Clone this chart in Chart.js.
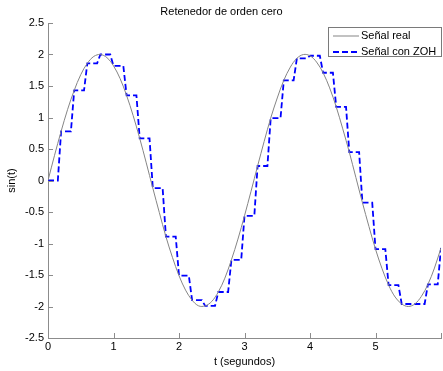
<!DOCTYPE html>
<html>
<head>
<meta charset="utf-8">
<script src="https://cdn.jsdelivr.net/npm/chart.js@4.4.0/dist/chart.umd.min.js"></script>
<style>
  html, body { margin: 0; padding: 0; background: #fff; }
  canvas { display: block; }
</style>
</head>
<body>
<canvas id="chart" width="443" height="371"></canvas>
<script>
// time axis of the continuous signal (s)
const tReal = [0, 0.1, 0.2, 0.3, 0.4, 0.5, 0.6, 0.7, 0.8, 0.9,
  1, 1.1, 1.2, 1.3, 1.4, 1.5, 1.6, 1.7, 1.8, 1.9,
  2, 2.1, 2.2, 2.3, 2.4, 2.5, 2.6, 2.7, 2.8, 2.9,
  3, 3.1, 3.2, 3.3, 3.4, 3.5, 3.6, 3.7, 3.8, 3.9,
  4, 4.1, 4.2, 4.3, 4.4, 4.5, 4.6, 4.7, 4.8, 4.9,
  5, 5.1, 5.2, 5.3, 5.4, 5.5, 5.6, 5.7, 5.8, 5.9, 6]
const yReal = [0, 0.40, 0.78, 1.13, 1.43, 1.68, 1.86, 1.97, 2.00, 1.95,
  1.82, 1.62, 1.35, 1.03, 0.67, 0.28, -0.12, -0.51, -0.89, -1.22,
  -1.51, -1.74, -1.90, -1.99, -1.99, -1.92, -1.77, -1.55, -1.26, -0.93,
  -0.56, -0.17, 0.23, 0.62, 0.99, 1.31, 1.59, 1.80, 1.94, 2.00,
  1.98, 1.88, 1.71, 1.47, 1.17, 0.82, 0.45, 0.05, -0.35, -0.73,
  -1.09, -1.40, -1.66, -1.85, -1.96, -2.00, -1.96, -1.84, -1.65, -1.39, -1.07]

// sample instants and held values of the ZOH
const tZoh = [0, 0.2, 0.4, 0.6, 0.8, 1, 1.2, 1.4, 1.6, 1.8,
  2, 2.2, 2.4, 2.6, 2.8, 3, 3.2, 3.4, 3.6, 3.8,
  4, 4.2, 4.4, 4.6, 4.8, 5, 5.2, 5.4, 5.6, 5.8, 6]
const yZoh = [0, 0.78, 1.43, 1.86, 2.00, 1.82, 1.35, 0.67, -0.12, -0.89,
  -1.51, -1.90, -1.99, -1.77, -1.26, -0.56, 0.23, 0.99, 1.59, 1.94,
  1.98, 1.71, 1.17, 0.45, -0.35, -1.09, -1.66, -1.96, -1.96, -1.65, -1.07]

const xTicks = [0, 1, 2, 3, 4, 5]
const yTicks = [-2.5, -2, -1.5, -1, -0.5, 0, 0.5, 1, 1.5, 2, 2.5]

// the held value ends one fine time step before the next sample
const FINE_STEP = 0.05

const FONT = "'Liberation Sans', Arial, sans-serif"
const AXIS_GRAY = '#8c8c8c'

function zohPoints(){
    const pts = []
    tZoh.forEach((t, i) => {
        pts.push({x: t, y: yZoh[i]})
        if (i < tZoh.length - 1){
            pts.push({x: tZoh[i + 1] - FINE_STEP, y: yZoh[i]})
        }
    })
    return pts
}

// MATLAB style: tick marks pointing into the plot area
const innerTicks = {
    id: 'innerTicks',
    afterDraw(chart){
        const {ctx, chartArea, scales} = chart
        ctx.save()
        ctx.strokeStyle = AXIS_GRAY
        ctx.lineWidth = 1
        ctx.beginPath()
        scales.y.ticks.forEach(t => {
            const py = Math.round(scales.y.getPixelForValue(t.value)) + 0.5
            ctx.moveTo(chartArea.left, py)
            ctx.lineTo(chartArea.left + 5, py)
        })
        scales.x.ticks.forEach(t => {
            const px = Math.round(scales.x.getPixelForValue(t.value)) + 0.5
            ctx.moveTo(px, chartArea.bottom)
            ctx.lineTo(px, chartArea.bottom - 5)
        })
        ctx.stroke()
        ctx.restore()
    }
}

// boxed legend in the upper right corner
const boxLegend = {
    id: 'boxLegend',
    afterDraw(chart){
        const ctx = chart.ctx
        const x0 = 328.5, y0 = 27.5, w = 113, h = 29
        ctx.save()
        ctx.fillStyle = '#fff'
        ctx.fillRect(x0, y0, w, h)
        ctx.strokeStyle = '#7a7a7a'
        ctx.lineWidth = 1
        ctx.strokeRect(x0, y0, w, h)
        ctx.font = '11px ' + FONT
        ctx.textBaseline = 'middle'
        ctx.fillStyle = '#000'
        chart.data.datasets.forEach((ds, i) => {
            const y = 36 + i * 16
            ctx.beginPath()
            ctx.strokeStyle = ds.borderColor
            ctx.lineWidth = ds.borderWidth
            ctx.setLineDash(ds.borderDash || [])
            ctx.moveTo(333, y)
            ctx.lineTo(359, y)
            ctx.stroke()
            ctx.setLineDash([])
            ctx.fillText(ds.label, 361, y)
        })
        ctx.restore()
    }
}

new Chart(document.getElementById('chart'), {
    type: 'line',
    data: {
        datasets: [
            {
                label: 'Señal real',
                data: tReal.map((t, i) => ({x: t, y: yReal[i]})),
                borderColor: '#858585',
                borderWidth: 1,
                pointRadius: 0,
                tension: 0.35,
                fill: false
            },
            {
                label: 'Señal con ZOH',
                data: zohPoints(),
                borderColor: '#0000ff',
                borderWidth: 1.8,
                borderDash: [6, 3],
                pointRadius: 0,
                tension: 0,
                fill: false
            }
        ]
    },
    options: {
        responsive: false,
        animation: false,
        devicePixelRatio: 1,
        layout: { padding: 0 },
        plugins: {
            legend: { display: false },
            tooltip: { enabled: false },
            title: {
                display: true,
                text: 'Retenedor de orden cero',
                color: '#000',
                font: { family: FONT, size: 11, weight: 'normal' },
                padding: { top: 5, bottom: 4.8 }
            }
        },
        scales: {
            x: {
                type: 'linear',
                min: 0,
                max: 6,
                afterBuildTicks: s => { s.ticks = xTicks.concat([6]).map(v => ({value: v})) },
                afterFit: s => { s.height = 33 },
                grid: { display: false, drawTicks: false },
                border: { display: true, color: AXIS_GRAY, width: 1 },
                ticks: {
                    padding: 2,
                    maxRotation: 0,
                    color: '#000',
                    font: { family: FONT, size: 11 },
                    callback: v => xTicks.includes(v) ? String(v) : ''
                },
                title: {
                    display: true,
                    text: 't (segundos)',
                    color: '#000',
                    font: { family: FONT, size: 11 },
                    padding: { top: 0, bottom: 2.4 }
                }
            },
            y: {
                min: -2.5,
                max: 2.5,
                afterBuildTicks: s => { s.ticks = yTicks.map(v => ({value: v})) },
                afterFit: s => { s.width = 48 },
                grid: { display: false, drawTicks: false },
                border: { display: true, color: AXIS_GRAY, width: 1 },
                ticks: {
                    padding: 4,
                    color: '#000',
                    font: { family: FONT, size: 11 },
                    callback: v => String(v)
                },
                title: {
                    display: true,
                    text: 'sin(t)',
                    color: '#000',
                    font: { family: FONT, size: 11 },
                    padding: { top: 5.4, bottom: 0 }
                }
            }
        }
    },
    plugins: [innerTicks, boxLegend]
})
</script>
</body>
</html>
